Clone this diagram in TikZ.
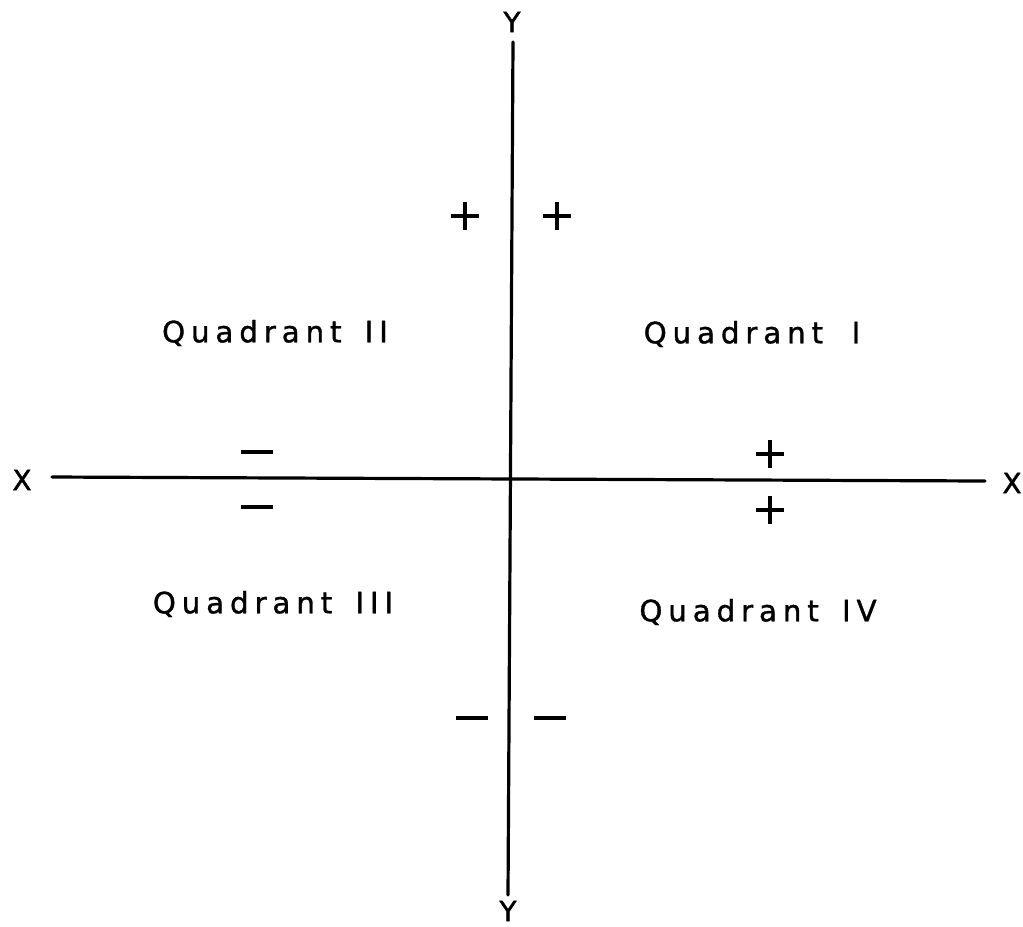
\documentclass[tikz,border=0pt]{standalone}
\usepackage{fontspec}
\setmainfont{DejaVu Sans}
\newfontfamily\quadfont[LetterSpace=20,FakeBold=1.2]{DejaVu Sans}
\newfontfamily\axfont[FakeBold=1.5]{DejaVu Sans}
\begin{document}
\begin{tikzpicture}[x=0.75pt,y=-0.75pt,
  axis/.style={line width=2.4pt,line cap=round},
  sign/.style={line width=2.4pt},
  axlabel/.style={font=\axfont\fontsize{21}{21}\selectfont,inner sep=0pt},
  quadlabel/.style={font=\quadfont\fontsize{22}{22}\selectfont,inner sep=0pt}]
\useasboundingbox (0,0) rectangle (1023,926);
% axes
\coordinate (ytop) at (513,42);
\coordinate (ybot) at (508,895);
\coordinate (xl) at (52,477);
\coordinate (xr) at (985,481);
\draw[axis] (ytop) -- (ybot);
\draw[axis] (xl) -- (xr);
\node[axlabel] (Ylab1) at (512,22) {Y};
\node[axlabel] (Ylab2) at (508,911) {Y};
\node[axlabel] (Xlab1) at (22,480) {X};
\node[axlabel] (Xlab2) at (1012,483) {X};
% quadrant labels
\node[quadlabel] (q2) at (275,333) {Quadrant\hspace{6pt} II};
\node[quadlabel] (q1) at (752,334) {Quadrant\hspace{10pt} I};
\node[quadlabel] (q3) at (273,604) {Quadrant\hspace{6pt} III};
\node[quadlabel] (q4) at (758,612) {Quadrant\hspace{6pt} IV};
% signs
\foreach \n/\x/\y in {pa/465/216, pb/557/216, pc/770/454, pd/770/510}{
  \coordinate (\n) at (\x,\y);
  \draw[sign] ([xshift=-10.5pt]\n) -- ([xshift=10.5pt]\n);
  \draw[sign] ([yshift=-10.5pt]\n) -- ([yshift=10.5pt]\n);
}
\foreach \n/\x/\y in {ma/257/452, mb/257/507, mc/472/718, md/550/718}{
  \coordinate (\n) at (\x,\y);
  \draw[sign] ([xshift=-12pt]\n) -- ([xshift=12pt]\n);
}
\end{tikzpicture}
\end{document}
